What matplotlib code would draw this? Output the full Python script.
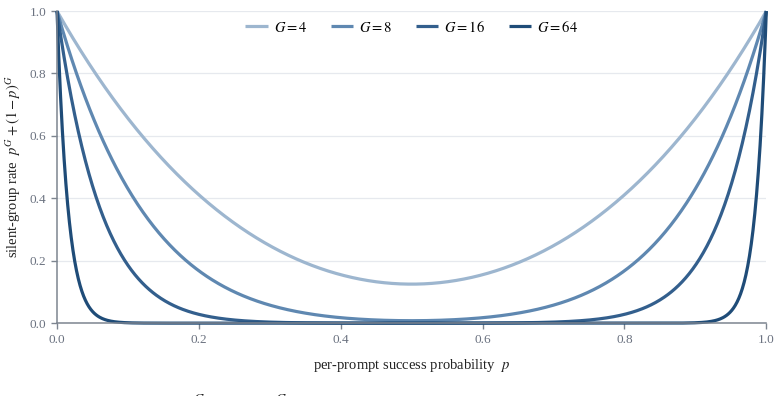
import numpy as np
import matplotlib.pyplot as plt

# group sizes shown in the legend
group_sizes = [4, 8, 16, 64]
line_colors = ["#9db6cf", "#5f88b1", "#335f8d", "#1f4c78"]
x_ticks = [0.0, 0.2, 0.4, 0.6, 0.8, 1.0]
y_ticks = [0.0, 0.2, 0.4, 0.6, 0.8, 1.0]

plt.rcParams['font.family'] = ['Liberation Serif', 'DejaVu Serif']
plt.rcParams['mathtext.fontset'] = 'stix'

fig = plt.figure(figsize=(7.79, 3.96), dpi=100)
ax = fig.add_axes([0.0732, 0.184, 0.9105, 0.788])

# curve from the y-axis definition: silent when all G rollouts agree
p = np.linspace(0, 1, 801)
for G, c in zip(group_sizes, line_colors):
    ax.plot(p, p**G + (1 - p)**G, color=c, lw=2.3, label=f"$G = {G}$",
            solid_capstyle='butt', clip_on=False)

ax.set_xlim(0, 1)
ax.set_ylim(0, 1)
ax.set_xticks(x_ticks)
ax.set_yticks(y_ticks)
ax.set_xticklabels([f"{v:.1f}" for v in x_ticks])
ax.set_yticklabels([f"{v:.1f}" for v in y_ticks])
ax.grid(axis='y', color='#e6e9ee', lw=0.9)
ax.set_axisbelow(True)
for s in ['top', 'right']:
    ax.spines[s].set_visible(False)
for s in ['left', 'bottom']:
    ax.spines[s].set_color('#7d8590')
    ax.spines[s].set_linewidth(1.1)
ax.tick_params(colors='#7d8590', labelcolor='#6b7280', labelsize=9.5,
               length=4, width=1)

ax.set_xlabel("per-prompt success probability  $p$", fontsize=10.5,
              color='#222222', labelpad=8)
ax.set_ylabel("silent-group rate  $p^G + (1-p)^G$", fontsize=10.5,
              color='#222222', labelpad=5)

ax.legend(loc='upper center', bbox_to_anchor=(0.5, 1.015), ncol=4,
          frameon=False, fontsize=10.5, handlelength=1.55, columnspacing=1.6,
          handletextpad=0.4)

# caption line cut off by the bottom edge
fig.text(0.232, -0.038, "$p^G + (1-p)^G$", fontsize=14, color='#222222')

fig.savefig("out.png", dpi=100)
